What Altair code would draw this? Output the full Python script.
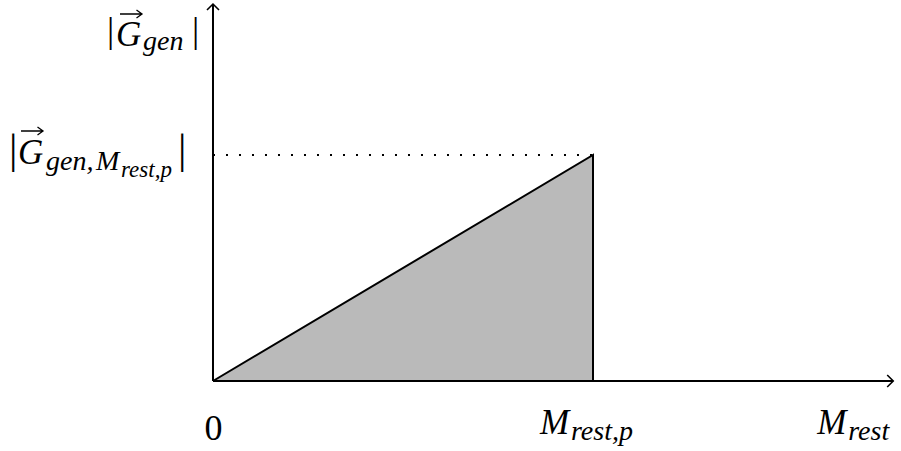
import altair as alt
import pandas as pd

# Generated quantity grows linearly with rest mass up to M_rest,p, then stops
m_rest = [0.0, 1.0]          # 0 and M_rest,p
g_gen = [0.0, 1.0]           # 0 and |G_gen,M_rest,p|

# Reach of the two drawn axes (same units as above)
x_axis_end = 1.79
y_axis_end = 1.668

# Axis labels
x_tick_values = [0.0, 1.0, x_axis_end]
y_label_values = [y_axis_end, 1.0]

X_SCALE = alt.Scale(domain=[-0.5605, 1.8105], nice=False, zero=False)
Y_SCALE = alt.Scale(domain=[-0.3097, 1.6858], nice=False, zero=False)

SERIF = "Liberation Serif"
MAIN = 35
SUB = 28
SUBSUB = 23


def xy(df, x="x", y="y"):
    return dict(
        x=alt.X(f"{x}:Q", scale=X_SCALE, axis=None),
        y=alt.Y(f"{y}:Q", scale=Y_SCALE, axis=None),
    )


# Shaded triangle
tri_df = pd.DataFrame({"x": m_rest, "y": g_gen})
fill = alt.Chart(tri_df).mark_area(color="#bababa", opacity=1).encode(
    **xy(tri_df), y2=alt.datum(0)
)

# Triangle outline: hypotenuse and the vertical edge at M_rest,p
edge_df = pd.DataFrame({
    "x": [m_rest[0], m_rest[1], m_rest[1]],
    "y": [g_gen[0], g_gen[1], 0.0],
    "o": [0, 1, 2],
})
edge = alt.Chart(edge_df).mark_line(color="black", strokeWidth=2).encode(
    **xy(edge_df), order="o:Q"
)

# Dotted guide from the y axis to the apex
guide_df = pd.DataFrame({"x": [0.0], "x2": [m_rest[1]], "y": [g_gen[1]]})
guide = alt.Chart(guide_df).mark_rule(
    color="black", strokeWidth=2, strokeDash=[2, 11]
).encode(**xy(guide_df), x2="x2:Q")

# Axis lines
axes_df = pd.DataFrame({
    "x": [0.0, 0.0], "y": [0.0, 0.0],
    "x2": [x_axis_end, 0.0], "y2": [0.0, y_axis_end],
})
axes = alt.Chart(axes_df).mark_rule(color="black", strokeWidth=2).encode(
    **xy(axes_df), x2="x2:Q", y2="y2:Q"
)

# Open arrow heads at the axis ends
HEAD = "M -1 1 L 0 0 L 1 1"
xhead_df = pd.DataFrame({"x": [x_axis_end], "y": [0.0]})
xhead = alt.Chart(xhead_df).mark_point(
    shape=HEAD, size=144, angle=90, filled=False, color="black",
    strokeWidth=1.6, opacity=1
).encode(**xy(xhead_df))
yhead_df = pd.DataFrame({"x": [0.0], "y": [y_axis_end]})
yhead = alt.Chart(yhead_df).mark_point(
    shape=HEAD, size=144, angle=0, filled=False, color="black",
    strokeWidth=1.6, opacity=1
).encode(**xy(yhead_df))


def piece(x, y, text, dx, dy, size, italic=True, font=SERIF, align="left"):
    df = pd.DataFrame({"x": [x], "y": [y], "t": [text]})
    return alt.Chart(df).mark_text(
        align=align, baseline="alphabetic", dx=dx, dy=dy, fontSize=size,
        font=font, fontStyle="italic" if italic else "normal", color="black",
    ).encode(**xy(df), text="t:N")


# Vector accent drawn as a small stroked arrow symbol above the G
VEC = "M -1 0 L 1 0 M 0.5 -0.36 L 1 0 L 0.5 0.36"


def vec_accent(x, y, dx, dy):
    df = pd.DataFrame({"x": [x], "y": [y]})
    return alt.Chart(df).mark_point(
        shape=VEC, size=484, filled=False, color="black", strokeWidth=1.3,
        opacity=1, xOffset=dx, yOffset=dy,
    ).encode(**xy(df))


labels = []
# x-axis labels: 0, M_rest,p, M_rest
x0, xp, xe = x_tick_values
labels.append(piece(x0, 0.0, "0", 0.5, 59, 36, italic=False, align="center"))
labels.append(piece(xp, 0.0, "M", -53, 53, MAIN))
labels.append(piece(xp, 0.0, "rest,p", -22, 59, SUB))
labels.append(piece(xe, 0.0, "M", -76, 53, MAIN))
labels.append(piece(xe, 0.0, "rest", -45, 59, SUB))

# y-axis label |G_gen|
ya, yp = y_label_values
labels.append(piece(0.0, ya, "|", -106, 38, 36, italic=False))
labels.append(piece(0.0, ya, "G", -97, 42, MAIN))
labels.append(vec_accent(0.0, ya, -82, 10))
labels.append(piece(0.0, ya, "gen", -70, 46, SUB))
labels.append(piece(0.0, ya, "|", -21, 38, 36, italic=False))

# y label at the apex height |G_gen,M_rest,p|
labels.append(piece(0.0, yp, "|", -204, 8, 42, italic=False))
labels.append(piece(0.0, yp, "G", -195, 9, MAIN))
labels.append(vec_accent(0.0, yp, -181, -24))
labels.append(piece(0.0, yp, "gen,", -167, 15, SUB))
labels.append(piece(0.0, yp, "M", -117, 15, SUB))
labels.append(piece(0.0, yp, "rest,p", -92, 22, SUBSUB))
labels.append(piece(0.0, yp, "|", -35, 8, 42, italic=False))

chart = alt.layer(fill, guide, axes, edge, xhead, yhead, *labels).properties(
    width=901, height=451, padding=0,
    autosize=alt.AutoSizeParams(type="none"),
    background="white",
).configure_view(stroke=None)

chart.save("out.html", embed_options={"renderer": "svg", "actions": False})
